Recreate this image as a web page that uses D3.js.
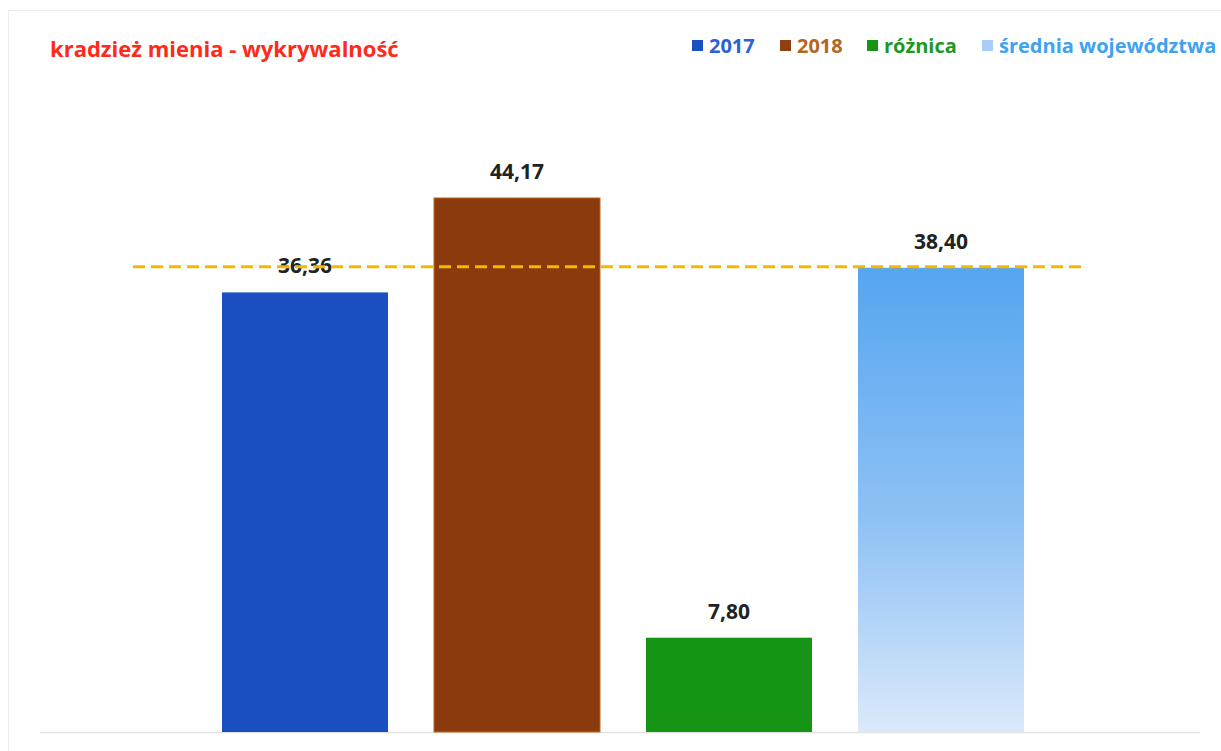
<!DOCTYPE html>
<html>
<head>
<meta charset="utf-8">
<script src="https://cdn.jsdelivr.net/npm/d3@7"></script>
<style>
  body { margin: 0; background: #fff; }
  #chart { width: 1221px; height: 751px; }
  text { font-family: "Open Sans", Lato, sans-serif; font-weight: 700; }
</style>
</head>
<body>
<div id="chart"></div>
<script>
//Dane
const categories = ['2017', '2018', 'różnica', 'średnia województwa'];
const values = [36.36, 44.17, 7.80, 38.40];
const average = 38.40;
const title = 'kradzież mienia - wykrywalność';

//Kolory
const COLOR_2017 = '#1a4fc2',
COLOR_2018 = '#8a3a0c',
COLOR_DIFF = '#159415',
COLOR_AVG_TOP = '#55a5f0',
COLOR_AVG_BOTTOM = '#dbe9fa',
COLOR_LINE = '#f5b800';

const legendColors = ['#1a4fc2', '#8f3f12', '#159415', '#a9cdf6'];
const legendTextColors = ['#2a62d6', '#b5651d', '#1c9a1c', '#3ea2f2'];

let width = 1221, height = 751;

let svg = d3.select('#chart')
    .append('svg')
    .attr('width', width)
    .attr('height', height);

let defs = svg.append('defs');
let grad = defs.append('linearGradient')
    .attr('id', 'avgGrad')
    .attr('x1', 0).attr('y1', 0).attr('x2', 0).attr('y2', 1);
grad.append('stop').attr('offset', '0%').attr('stop-color', COLOR_AVG_TOP);
grad.append('stop').attr('offset', '55%').attr('stop-color', '#8fc2f4');
grad.append('stop').attr('offset', '100%').attr('stop-color', COLOR_AVG_BOTTOM);

//Ramka
svg.append('rect')
    .attr('x', 8.5).attr('y', 10.5)
    .attr('width', 1222).attr('height', 760)
    .attr('fill', 'none')
    .attr('stroke', '#ececec');

//Skale
let x = d3.scaleBand()
    .domain(categories)
    .range([199, 1047])
    .paddingInner(0.217)
    .paddingOuter(0.1085);

let y = d3.scaleLinear()
    .domain([0, 50])
    .range([732, 127.5]);

let fills = [COLOR_2017, COLOR_2018, COLOR_DIFF, 'url(#avgGrad)'];
let strokes = ['none', '#c0661e', 'none', 'none'];
let fmt = d3.formatLocale({decimal: ',', thousands: ' ', grouping: [3], currency: ['', ' zł']}).format('.2f');

//Oś bazowa
svg.append('line')
    .attr('x1', 40).attr('x2', 1200)
    .attr('y1', y(0) + 0.5).attr('y2', y(0) + 0.5)
    .attr('stroke', '#e2e2e2')
    .attr('stroke-width', 1.5);

//Słupki
svg.append('g')
    .selectAll('rect')
    .data(values)
    .enter()
    .append('rect')
    .attr('x', function(d, i) { return x(categories[i]); })
    .attr('y', function(d) { return y(d); })
    .attr('width', x.bandwidth())
    .attr('height', function(d) { return y(0) - y(d); })
    .attr('fill', function(d, i) { return fills[i]; })
    .attr('stroke', function(d, i) { return strokes[i]; })
    .attr('stroke-width', 1);

//Etykiety
svg.append('g')
    .selectAll('text')
    .data(values)
    .enter()
    .append('text')
    .attr('x', function(d, i) { return x(categories[i]) + x.bandwidth() / 2; })
    .attr('y', function(d) { return y(d) - 19; })
    .attr('text-anchor', 'middle')
    .attr('font-size', 21)
    .attr('fill', '#222')
    .text(function(d) { return fmt(d); });

//Linia średniej (nad etykietami)
svg.append('line')
    .attr('x1', 133).attr('x2', 1085)
    .attr('y1', y(average) - 1).attr('y2', y(average) - 1)
    .attr('stroke', COLOR_LINE)
    .attr('stroke-width', 3)
    .attr('stroke-dasharray', '12,6');

//Tytuł
svg.append('text')
    .attr('x', 50).attr('y', 57)
    .attr('font-size', 22)
    .attr('fill', '#ff2a1a')
    .text(title);

//Legenda
let legendX = [692, 780, 867, 982];
let legend = svg.append('g');
categories.forEach(function(c, i) {
    legend.append('rect')
        .attr('x', legendX[i]).attr('y', 40)
        .attr('width', 11).attr('height', 11)
        .attr('fill', legendColors[i]);
    legend.append('text')
        .attr('x', legendX[i] + 17).attr('y', 53)
        .attr('font-size', 20)
        .attr('fill', legendTextColors[i])
        .text(c);
});
</script>
</body>
</html>
